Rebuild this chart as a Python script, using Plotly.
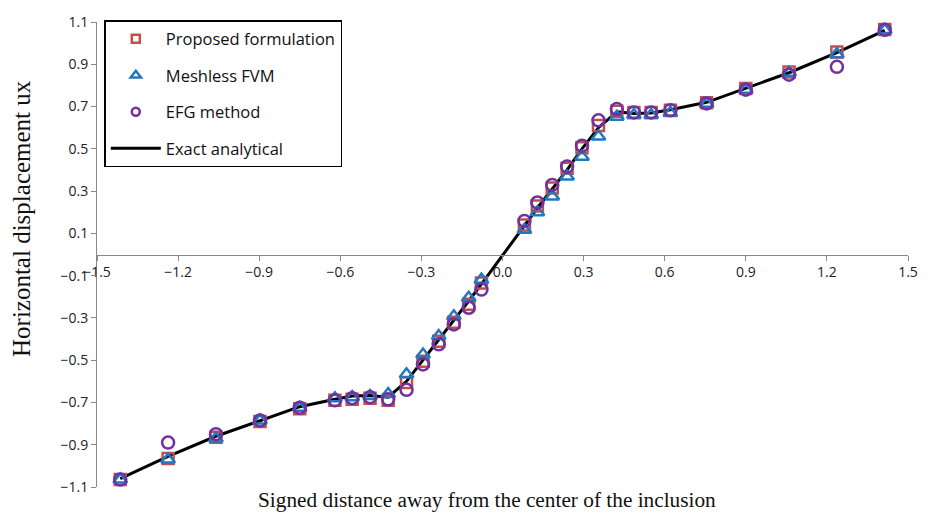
import plotly.graph_objects as go

x_nodes = [-1.414, -1.237, -1.06, -0.897, -0.75, -0.62, -0.556, -0.49, -0.423, -0.355,
           -0.294, -0.236, -0.18, -0.125, -0.078, 0.081, 0.129, 0.184, 0.239, 0.294,
           0.355, 0.423, 0.486, 0.55, 0.621, 0.755, 0.90, 1.06, 1.237, 1.414]

proposed = [-1.065, -0.965, -0.865, -0.79, -0.73, -0.69, -0.685, -0.68, -0.69, -0.605,
            -0.505, -0.41, -0.32, -0.235, -0.135, 0.14, 0.23, 0.315, 0.408, 0.505,
            0.61, 0.678, 0.672, 0.672, 0.683, 0.718, 0.785, 0.864, 0.958, 1.065]

meshless = [-1.065, -0.97, -0.87, -0.785, -0.725, -0.68, -0.675, -0.67, -0.66, -0.567,
            -0.473, -0.386, -0.292, -0.205, -0.119, 0.117, 0.20, 0.275, 0.369, 0.463,
            0.558, 0.652, 0.66, 0.66, 0.67, 0.713, 0.78, 0.86, 0.948, 1.062]

efg = [-1.065, -0.89, -0.85, -0.785, -0.725, -0.69, -0.68, -0.675, -0.685, -0.64,
       -0.52, -0.425, -0.331, -0.252, -0.166, 0.159, 0.246, 0.329, 0.416, 0.515,
       0.635, 0.688, 0.672, 0.672, 0.683, 0.715, 0.78, 0.851, 0.888, 1.063]

exact = [-1.06, -0.955, -0.86, -0.785, -0.72, -0.685, -0.67, -0.667, -0.675, -0.60,
         -0.50, -0.40, -0.31, -0.22, -0.14, 0.14, 0.22, 0.31, 0.40, 0.50,
         0.60, 0.675, 0.667, 0.67, 0.685, 0.72, 0.785, 0.86, 0.955, 1.06]

names = ["Proposed formulation", "Meshless FVM", "EFG method", "Exact analytical"]
x_title = "Signed distance away from the center of the inclusion"
y_title = "Horizontal displacement ux"

colors = {"p": "#C0504D", "m": "#2177C0", "e": "#7030A0"}

fig = go.Figure()

# data traces
fig.add_trace(go.Scatter(x=x_nodes, y=exact, mode="lines", showlegend=False,
                         line=dict(color="black", width=3)))
fig.add_trace(go.Scatter(x=x_nodes, y=proposed, mode="markers", showlegend=False,
                         marker=dict(symbol="square-open", size=11, color=colors["p"],
                                     line=dict(width=2.5, color=colors["p"]))))
fig.add_trace(go.Scatter(x=x_nodes, y=meshless, mode="markers", showlegend=False,
                         marker=dict(symbol="triangle-up-open", size=12, color=colors["m"],
                                     line=dict(width=2.5, color=colors["m"]))))
fig.add_trace(go.Scatter(x=x_nodes, y=efg, mode="markers", showlegend=False,
                         marker=dict(symbol="circle-open", size=12, color=colors["e"],
                                     line=dict(width=2.5, color=colors["e"]))))

# legend entries (smaller symbols, as in the reference legend)
fig.add_trace(go.Scatter(x=[None], y=[None], mode="markers", name=names[0], legendgroup="a",
                         marker=dict(symbol="square-open", size=8, color=colors["p"],
                                     line=dict(width=2.5, color=colors["p"]))))
fig.add_trace(go.Scatter(x=[None], y=[None], mode="markers", name=names[1], legendgroup="b",
                         marker=dict(symbol="triangle-up-open", size=9, color=colors["m"],
                                     line=dict(width=2.5, color=colors["m"]))))
fig.add_trace(go.Scatter(x=[None], y=[None], mode="markers", name=names[2], legendgroup="c",
                         marker=dict(symbol="circle-open", size=8, color=colors["e"],
                                     line=dict(width=2.5, color=colors["e"]))))
fig.add_trace(go.Scatter(x=[None], y=[None], mode="lines", name=names[3], legendgroup="d",
                         line=dict(color="black", width=3)))

axis_color = "#888888"
fig.update_layout(
    width=930, height=516,
    margin=dict(l=97, r=17, t=22, b=29),
    paper_bgcolor="white", plot_bgcolor="white",
    font=dict(family="Open Sans", size=14, color="#222222"),
    xaxis=dict(range=[-1.5, 1.5], tick0=-1.5, dtick=0.3, tickformat=".1f",
               anchor="free", position=0.5, showline=True, linecolor=axis_color,
               linewidth=1, ticks="outside", ticklen=5, tickcolor=axis_color,
               showgrid=False, zeroline=False, tickfont=dict(size=14, color="#222222")),
    yaxis=dict(range=[-1.1, 1.1], tick0=-1.1, dtick=0.2, tickformat=".1f",
               showline=True, linecolor=axis_color, linewidth=1, ticks="outside",
               ticklen=5, tickcolor=axis_color, showgrid=False, zeroline=False,
               tickfont=dict(size=14, color="#222222")),
    legend=dict(x=0.009, y=1.004, xanchor="left", yanchor="top",
                bgcolor="white", bordercolor="black", borderwidth=1.5,
                font=dict(family="Open Sans", size=16.5, color="#111111"),
                tracegroupgap=12, traceorder="grouped", itemwidth=50),
    showlegend=True,
    annotations=[
        dict(text=x_title, xref="paper", yref="paper", x=0.481, y=-0.028,
             xanchor="center", yanchor="middle", showarrow=False,
             font=dict(family="Liberation Serif", size=21.3, color="#111111")),
        dict(text=y_title, xref="paper", yref="paper", x=-0.094, y=0.578,
             xanchor="center", yanchor="middle", showarrow=False, textangle=-90,
             font=dict(family="Liberation Serif", size=25, color="#111111")),
    ],
)

fig.write_html("out.html")
